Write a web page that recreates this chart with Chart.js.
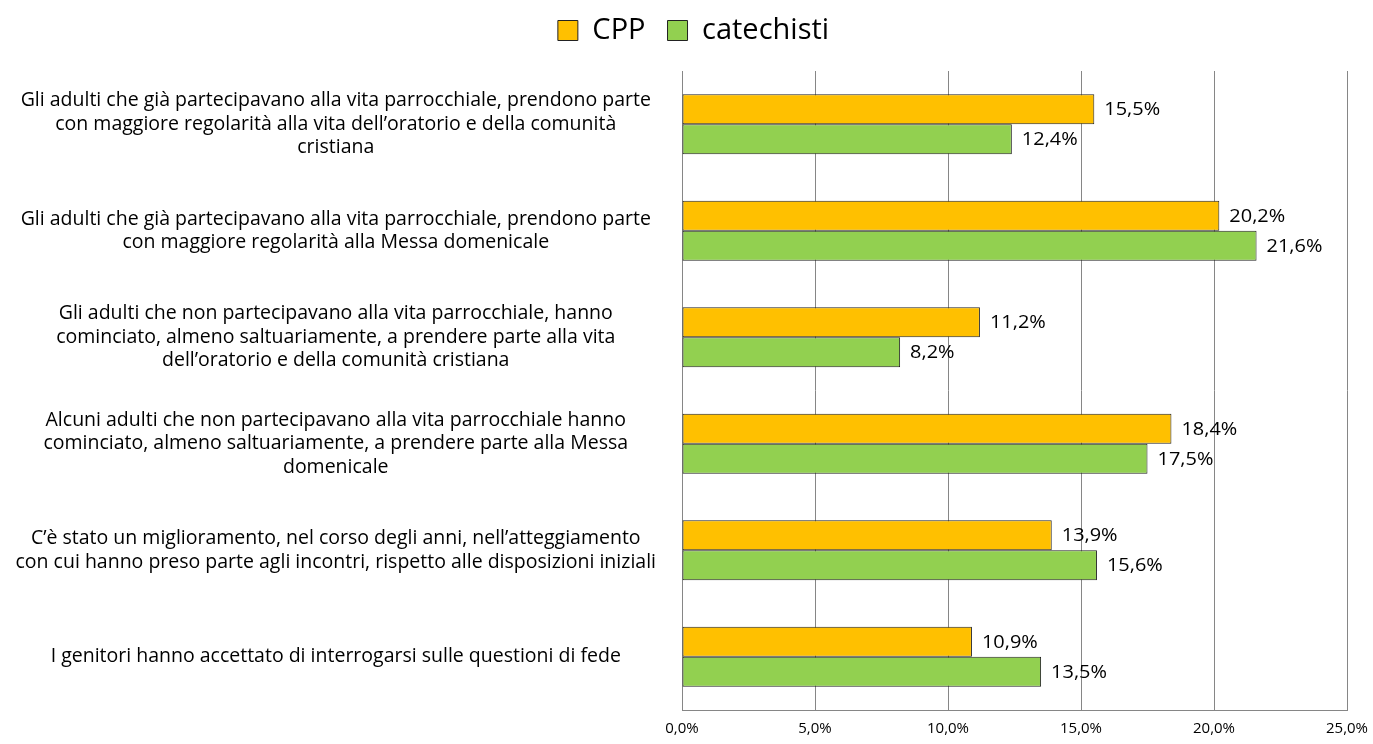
<!DOCTYPE html>
<html>
<head>
<meta charset="utf-8">
<script src="https://cdn.jsdelivr.net/npm/chart.js@4/dist/chart.umd.min.js"></script>
<style>
html,body{margin:0;padding:0;background:#fff;}
#wrap{width:1373px;height:744px;position:relative;}
</style>
</head>
<body>
<div id="wrap"><canvas id="c" width="1373" height="744"></canvas></div>
<script>
const categories = [
  ["Gli adulti che già partecipavano alla vita parrocchiale, prendono parte", "con maggiore regolarità alla vita dell’oratorio e della comunità", "cristiana"],
  ["Gli adulti che già partecipavano alla vita parrocchiale, prendono parte", "con maggiore regolarità alla Messa domenicale"],
  ["Gli adulti che non partecipavano alla vita parrocchiale, hanno", "cominciato, almeno saltuariamente, a prendere parte alla vita", "dell’oratorio e della comunità cristiana"],
  ["Alcuni adulti che non partecipavano alla vita parrocchiale hanno", "cominciato, almeno saltuariamente, a prendere parte alla Messa", "domenicale"],
  ["C’è stato un miglioramento, nel corso degli anni, nell’atteggiamento", "con cui hanno preso parte agli incontri, rispetto alle disposizioni iniziali"],
  "I genitori hanno accettato di interrogarsi sulle questioni di fede"
];
const cppValues = [15.5, 20.2, 11.2, 18.4, 13.9, 10.9];
const catechistiValues = [12.4, 21.6, 8.2, 17.5, 15.6, 13.5];
const seriesNames = ["CPP", "catechisti"];
const xTicks = [0, 5, 10, 15, 20, 25];

const fmt = v => v.toFixed(1).replace('.', ',') + '%';
const FONT = "'Open Sans', sans-serif";
const LABEL_SIZE = 19.5;

const legendMargin = {
  id: 'legendMargin',
  beforeInit(chart) {
    const fit = chart.legend.fit;
    chart.legend.fit = function () { fit.bind(chart.legend)(); this.height += 16; };
  },
  afterLayout(chart) {
    chart.legend.left += 20;
    chart.legend.right += 20;
  }
};

const valueLabels = {
  id: 'valueLabels',
  afterDatasetsDraw(chart) {
    const ctx = chart.ctx;
    ctx.save();
    ctx.font = "17.5px " + FONT;
    ctx.fillStyle = '#000';
    ctx.textAlign = 'left';
    ctx.textBaseline = 'middle';
    chart.data.datasets.forEach((ds, di) => {
      chart.getDatasetMeta(di).data.forEach((bar, i) => {
        ctx.save();
        ctx.translate(bar.x + 10, bar.y + 1);
        ctx.scale(1.14, 1);
        ctx.fillText(fmt(ds.data[i]), 0, 0);
        ctx.restore();
      });
    });
    ctx.restore();
  }
};

new Chart(document.getElementById('c'), {
  type: 'bar',
  data: {
    labels: categories,
    datasets: [
      { label: seriesNames[0], data: cppValues, backgroundColor: '#FFC000', borderColor: '#222', borderWidth: 1, borderSkipped: false },
      { label: seriesNames[1], data: catechistiValues, backgroundColor: '#92D050', borderColor: '#222', borderWidth: 1, borderSkipped: false }
    ]
  },
  options: {
    indexAxis: 'y',
    responsive: false,
    animation: false,
    layout: { padding: { top: -6, right: 26, bottom: 7, left: 0 } },
    datasets: { bar: { categoryPercentage: 0.5625, barPercentage: 1 } },
    plugins: {
      legend: {
        position: 'top',
        labels: {
          boxWidth: 20, boxHeight: 20, padding: 22,
          color: '#000',
          font: { size: 29, family: FONT }
        }
      },
      tooltip: { enabled: false }
    },
    scales: {
      x: {
        min: 0, max: 25,
        afterBuildTicks(scale) { scale.ticks = xTicks.map(v => ({ value: v })); },
        afterFit(scale) { scale.height = 27; scale.paddingLeft = 0; scale.paddingRight = 0; },
        ticks: { callback: v => fmt(v), color: '#000', padding: 10, font: { size: 15, family: FONT }, maxRotation: 0 },
        grid: { color: '#868686', drawTicks: false },
        border: { color: '#868686' }
      },
      y: {
        afterFit(scale) {
          scale.width = 682;
          scale.paddingTop = 0;
          scale.paddingBottom = 0;
          const w = scale._getLabelSizes().widest.width;
          scale.options.ticks.padding = Math.max(4, Math.round(682 - 336 - w / 2));
        },
        ticks: { color: '#000', crossAlign: 'center', padding: 20, font: { size: LABEL_SIZE, family: FONT, lineHeight: 23.5 / LABEL_SIZE } },
        grid: { display: false, drawTicks: false },
        border: { color: '#868686' }
      }
    }
  },
  plugins: [legendMargin, valueLabels]
});
</script>
</body>
</html>
